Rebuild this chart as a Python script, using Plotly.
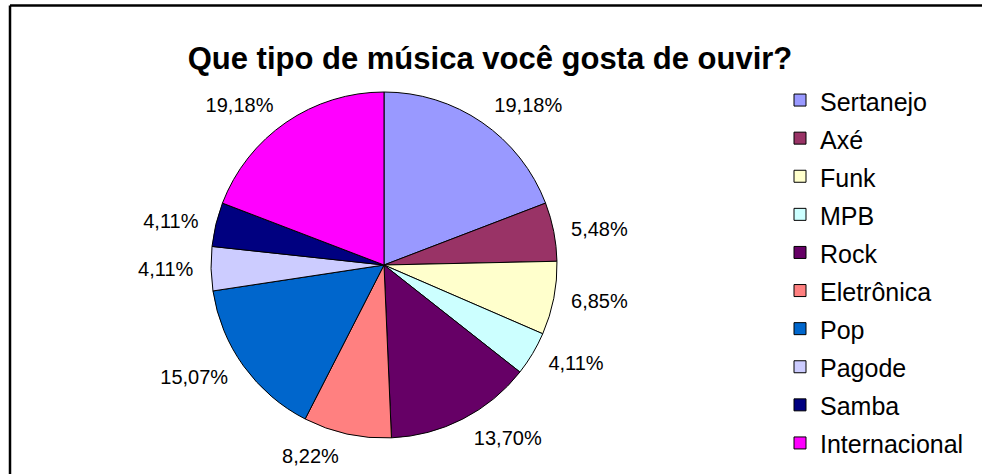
import plotly.graph_objects as go

generos = ["Sertanejo", "Axé", "Funk", "MPB", "Rock", "Eletrônica",
           "Pop", "Pagode", "Samba", "Internacional"]
respostas = [14, 4, 5, 3, 10, 6, 11, 3, 3, 14]
cores = ["#9999FF", "#993366", "#FFFFCC", "#CCFFFF", "#660066", "#FF8080",
         "#0066CC", "#CCCCFF", "#000080", "#FF00FF"]

FONTE = "Liberation Sans, Arial, sans-serif"
W, H = 982, 474

# centro e raio da pizza em pixels
cx, cy, r = 384, 265, 173


def dominio(raio):
    return dict(x=[(cx - raio) / W, (cx + raio) / W],
                y=[1 - (cy + raio) / H, 1 - (cy - raio) / H])


# pizza "fantasma" maior, só para afastar os rótulos como no Excel
fantasma = go.Pie(
    labels=generos,
    values=respostas,
    sort=False,
    direction="clockwise",
    rotation=0,
    marker=dict(colors=["rgba(0,0,0,0)"] * len(generos),
                line=dict(width=0)),
    textposition="outside",
    texttemplate="%{percent:.2%}",
    textfont=dict(family=FONTE, size=20, color="black"),
    hoverinfo="skip",
    showlegend=False,
    domain=dominio(r + 12),
)

pizza = go.Pie(
    labels=[f'<span style="font-size:25px">{g}</span>' for g in generos],
    values=respostas,
    sort=False,
    direction="clockwise",
    rotation=0,
    marker=dict(colors=cores, line=dict(color="black", width=1)),
    textinfo="none",
    hoverinfo="label+percent",
    domain=dominio(r),
)

fig = go.Figure([fantasma, pizza])

# moldura (só topo e esquerda aparecem no recorte)
fig.add_shape(type="line", xref="paper", yref="paper",
              x0=10 / W, y0=1 - 5.5 / H, x1=1.0, y1=1 - 5.5 / H,
              line=dict(color="black", width=2.5))
fig.add_shape(type="line", xref="paper", yref="paper",
              x0=10 / W, y0=1 - 5.5 / H, x1=10 / W, y1=0.0,
              line=dict(color="black", width=2.5))

fig.update_layout(
    width=W,
    height=H,
    margin=dict(l=0, r=0, t=0, b=0),
    paper_bgcolor="white",
    plot_bgcolor="white",
    separators=",.",
    title=dict(
        text="<b>Que tipo de música você gosta de ouvir?</b>",
        x=490 / W, xanchor="center",
        y=1 - 58 / H, yanchor="middle",
        font=dict(family=FONTE, size=31, color="black"),
    ),
    legend=dict(
        x=780 / W, xanchor="left",
        y=1 - 76 / H, yanchor="top",
        font=dict(family=FONTE, size=27, color="black"),
        bgcolor="rgba(0,0,0,0)",
    ),
    font=dict(family=FONTE),
)

fig.write_html(
    "out.html",
    config={"displayModeBar": False},
    post_script="document.body.style.margin='0px';"
                "document.body.style.overflow='hidden';",
)
